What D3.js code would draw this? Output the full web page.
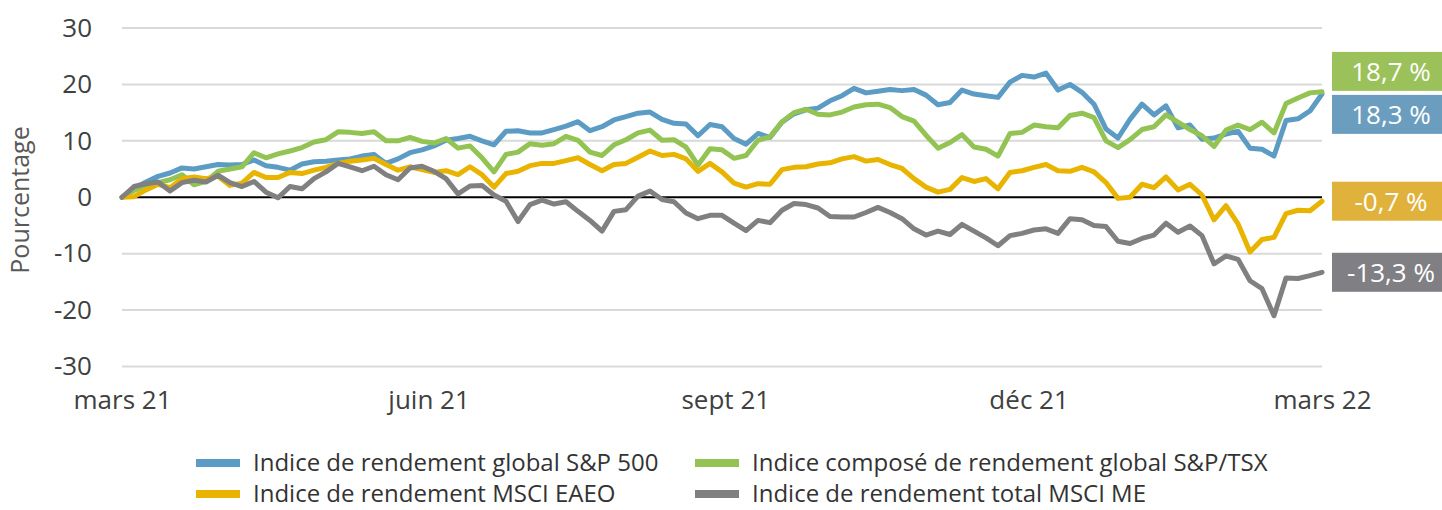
<!DOCTYPE html>
<html lang="fr">
<head>
  <meta charset="UTF-8">
  <title>Rendement des indices, mars 2021 - mars 2022</title>
  <script src="https://d3js.org/d3.v7.min.js"></script>
  <style>
    body { margin: 0; background: #fff; }
    text { font-family: "Open Sans", sans-serif; }
  </style>
</head>
<body>
  <div class="canvas"></div>
  <script>
    // ---- data ----
    const startDate = '2021-03-12';
    const endDate = '2022-03-11';
    const tickDates = ['2021-03-12', '2021-06-13', '2021-09-11', '2021-12-12', '2022-03-11'];
    const tickLabels = ['mars 21', 'juin 21', 'sept 21', 'déc 21', 'mars 22'];
    const yTicks = [30, 20, 10, 0, -10, -20, -30];

    const seriesNames = [
      'Indice de rendement global S&P 500',
      'Indice composé de rendement global S&P/TSX',
      'Indice de rendement MSCI EAEO',
      'Indice de rendement total MSCI ME'
    ];
    const finalLabels = ['18,3 %', '18,7 %', '-0,7 %', '-13,3 %'];

    const sp500 = [
      0, 1.5, 2.7, 3.7, 4.3, 5.2, 5.0, 5.4, 5.8, 5.7,
      5.8, 6.6, 5.6, 5.3, 4.8, 5.9, 6.3, 6.4, 6.6, 6.8,
      7.3, 7.6, 6.0, 6.8, 7.9, 8.4, 9.1, 10.1, 10.4, 10.8,
      10.0, 9.3, 11.7, 11.8, 11.4, 11.4, 12.0, 12.6, 13.4, 11.8,
      12.5, 13.7, 14.3, 14.9, 15.1, 13.8, 13.1, 13.0, 10.9, 12.9,
      12.5, 10.4, 9.4, 11.3, 10.6, 13.3, 14.8, 15.5, 15.8, 17.1,
      18.0, 19.3, 18.5, 18.8, 19.1, 18.9, 19.1, 18.1, 16.4, 16.8,
      19.0, 18.3, 18.0, 17.7, 20.4, 21.6, 21.3, 22.0, 19.0, 20.0,
      18.6, 16.5, 12.1, 10.5, 13.8, 16.5, 14.6, 16.2, 12.3, 12.8,
      10.3, 10.5, 11.2, 11.7, 8.7, 8.5, 7.3, 13.6, 13.9, 15.3,
      18.3
    ];
    const tsx = [
      0, 1.2, 2.0, 2.6, 3.1, 4.0, 2.2, 2.8, 4.6, 5.0,
      5.4, 7.9, 7.0, 7.7, 8.2, 8.8, 9.8, 10.2, 11.6, 11.5,
      11.3, 11.6, 10.0, 10.0, 10.6, 9.9, 9.6, 10.4, 8.7, 9.1,
      7.0, 4.5, 7.6, 8.0, 9.5, 9.2, 9.5, 10.8, 10.1, 8.0,
      7.4, 9.3, 10.2, 11.4, 11.9, 10.1, 10.2, 8.9, 5.7, 8.6,
      8.4, 6.9, 7.4, 10.1, 10.7, 13.4, 15.0, 15.6, 14.7, 14.6,
      15.1, 16.0, 16.4, 16.5, 15.9, 14.3, 13.5, 11.0, 8.7, 9.7,
      11.1, 8.9, 8.5, 7.3, 11.3, 11.5, 12.8, 12.5, 12.3, 14.5,
      14.9, 14.1, 10.0, 8.8, 10.2, 12.0, 12.5, 14.6, 13.3, 12.0,
      10.9, 9.0, 11.9, 12.8, 12.0, 13.3, 11.4, 16.6, 17.6, 18.5,
      18.7
    ];
    const eaeo = [
      0, 0.1, 1.3, 2.3, 1.7, 3.3, 3.6, 3.3, 3.7, 2.1,
      2.5, 4.4, 3.5, 3.5, 4.4, 4.2, 4.8, 5.3, 6.0, 6.4,
      6.6, 6.9, 5.8, 4.8, 5.4, 4.9, 4.4, 4.7, 4.0, 5.4,
      4.0, 1.8, 4.2, 4.6, 5.6, 6.0, 6.0, 6.5, 7.0, 5.8,
      4.7, 5.8, 6.0, 7.1, 8.2, 7.4, 7.6, 6.8, 4.6, 6.0,
      4.5, 2.5, 1.8, 2.4, 2.3, 4.9, 5.3, 5.4, 5.9, 6.1,
      6.8, 7.2, 6.4, 6.7, 5.8, 5.1, 3.3, 1.8, 0.9, 1.4,
      3.5, 2.8, 3.3, 1.5, 4.4, 4.7, 5.3, 5.8, 4.7, 4.6,
      5.3, 4.5, 2.6, -0.2, 0.0, 2.3, 1.7, 3.6, 1.3, 2.3,
      0.4, -4.0, -1.5, -4.7, -9.7, -7.5, -7.1, -2.9, -2.3, -2.4,
      -0.7
    ];
    const me = [
      0, 1.9, 2.4, 2.7, 1.1, 2.6, 3.0, 2.7, 3.9, 2.6,
      1.9, 2.8, 0.9, -0.1, 1.9, 1.5, 3.3, 4.5, 6.0, 5.4,
      4.7, 5.5, 4.0, 3.1, 5.2, 5.5, 4.6, 3.3, 0.6, 2.0,
      2.1, 0.4, -0.7, -4.3, -1.3, -0.5, -1.2, -0.8, -2.5, -4.1,
      -6.0, -2.5, -2.2, 0.2, 1.1, -0.4, -0.8, -2.8, -3.8, -3.2,
      -3.2, -4.6, -5.9, -4.1, -4.5, -2.3, -1.1, -1.3, -1.9, -3.4,
      -3.5, -3.5, -2.7, -1.8, -2.7, -3.8, -5.6, -6.7, -6.0, -6.6,
      -4.8, -6.0, -7.2, -8.6, -6.8, -6.4, -5.8, -5.6, -6.4, -3.8,
      -4.0, -5.0, -5.2, -7.8, -8.2, -7.3, -6.7, -4.6, -6.2, -5.1,
      -6.8, -11.8, -10.4, -11.0, -14.8, -16.2, -21.0, -14.3, -14.4, -13.9,
      -13.3
    ];

    // ---- layout ----
    const width = 1442;
    const height = 510;
    const margin = { top: 28, right: 120, bottom: 143.5, left: 122 };
    const lineColors = ['#5b9bc4', '#92c353', '#e8b400', '#808080'];
    const boxColors = ['#6b9dbf', '#9bc25a', '#e0b23c', '#7f7f84'];

    const parse = d3.timeParse('%Y-%m-%d');
    const t0 = parse(startDate);
    const t1 = parse(endDate);

    const svg = d3.select('.canvas')
      .append('svg')
      .attr('width', width)
      .attr('height', height);

    const x = d3.scaleTime()
      .domain([t0, t1])
      .range([margin.left, width - margin.right]);

    const y = d3.scaleLinear()
      .domain([-30, 30])
      .range([height - margin.bottom, margin.top]);

    // gridlines
    svg.append('g')
      .selectAll('line')
      .data(yTicks.filter(d => d !== 0))
      .join('line')
      .attr('x1', x(t0))
      .attr('x2', x(t1))
      .attr('y1', d => y(d))
      .attr('y2', d => y(d))
      .attr('stroke', '#d9d9d9')
      .attr('stroke-width', 2);

    // zero line
    svg.append('line')
      .attr('x1', x(t0))
      .attr('x2', x(t1))
      .attr('y1', y(0))
      .attr('y2', y(0))
      .attr('stroke', '#000')
      .attr('stroke-width', 2);

    // y axis labels (plain hyphen for negatives, as in the original)
    const yAxis = d3.axisLeft(y)
      .tickValues(yTicks)
      .tickFormat(d => String(d))
      .tickSize(0)
      .tickPadding(0);
    const yAxisG = svg.append('g')
      .attr('transform', `translate(92, 0)`)
      .call(yAxis);
    yAxisG.select('.domain').remove();
    yAxisG.selectAll('text')
      .attr('font-size', 26)
      .attr('fill', '#404040')
      .attr('font-family', '"Open Sans", sans-serif');

    svg.append('text')
      .attr('transform', `translate(29, 200) rotate(-90)`)
      .attr('text-anchor', 'middle')
      .attr('font-size', 25)
      .attr('fill', '#595959')
      .text('Pourcentage');

    // x axis labels
    const xAxis = d3.axisBottom(x)
      .tickValues(tickDates.map(parse))
      .tickFormat((d, i) => tickLabels[i])
      .tickSize(0)
      .tickPadding(0);
    const xAxisG = svg.append('g')
      .attr('transform', `translate(0, 391)`)
      .call(xAxis);
    xAxisG.select('.domain').remove();
    xAxisG.selectAll('text')
      .attr('font-size', 26)
      .attr('fill', '#404040')
      .attr('font-family', '"Open Sans", sans-serif');

    // series
    const allSeries = [sp500, tsx, eaeo, me];
    const n = sp500.length;
    const dates = d3.range(n).map(i => new Date(+t0 + i * (t1 - t0) / (n - 1)));

    const line = d3.line()
      .x((d, i) => x(dates[i]))
      .y(d => y(d));

    svg.append('g')
      .selectAll('path')
      .data(allSeries)
      .join('path')
      .attr('d', d => line(d))
      .attr('fill', 'none')
      .attr('stroke', (d, i) => lineColors[i])
      .attr('stroke-width', 5)
      .attr('stroke-linejoin', 'round')
      .attr('stroke-linecap', 'round');

    // end-value boxes, pushed apart where they would overlap
    const boxH = 39;
    const gap = 43;
    let labels = allSeries.map((s, i) => ({ i, v: s[n - 1], cy: y(s[n - 1]) }))
      .sort((a, b) => a.cy - b.cy);
    for (let k = 1; k < labels.length; k++) {
      const overlap = gap - (labels[k].cy - labels[k - 1].cy);
      if (overlap > 0) {
        labels[k - 1].cy -= overlap / 2;
        labels[k].cy += overlap / 2;
      }
    }

    const boxG = svg.append('g')
      .selectAll('g')
      .data(labels)
      .join('g')
      .attr('transform', d => `translate(1332, ${d.cy - boxH / 2})`);
    boxG.append('rect')
      .attr('width', 110)
      .attr('height', boxH)
      .attr('fill', d => boxColors[d.i]);
    boxG.append('text')
      .attr('x', 59)
      .attr('y', boxH / 2)
      .attr('dy', '0.36em')
      .attr('text-anchor', 'middle')
      .attr('font-size', 26)
      .attr('fill', '#fff')
      .text(d => finalLabels[d.i]);

    // legend, two rows kept inside the bottom edge
    const legendPos = [[196, 463], [695, 463], [196, 494], [695, 494]];
    const legend = svg.append('g')
      .selectAll('g')
      .data(seriesNames)
      .join('g')
      .attr('transform', (d, i) => `translate(${legendPos[i][0]}, ${legendPos[i][1]})`);
    legend.append('rect')
      .attr('y', -4)
      .attr('width', 44)
      .attr('height', 8)
      .attr('fill', (d, i) => lineColors[i]);
    legend.append('text')
      .attr('x', 57)
      .attr('y', 8)
      .attr('font-size', 24)
      .attr('fill', '#333')
      .text(d => d);
  </script>
</body>
</html>
